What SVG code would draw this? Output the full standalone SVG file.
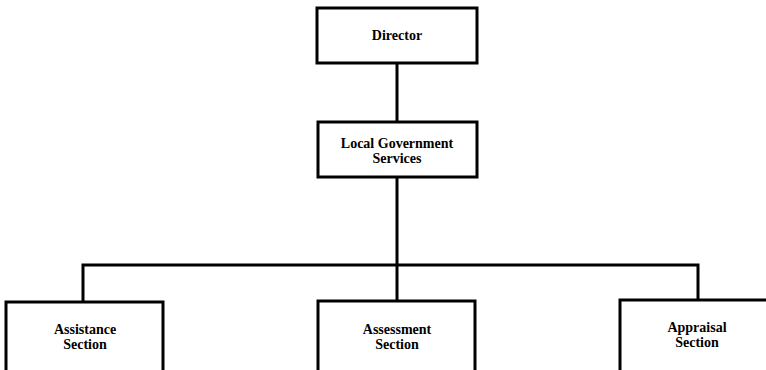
<svg xmlns="http://www.w3.org/2000/svg" width="766" height="370" viewBox="0 0 766 370">
  <style>
    .box { fill: #ffffff; stroke: #000000; stroke-width: 3; }
    .wire { fill: none; stroke: #000000; stroke-width: 3; }
    .label { font-family: "Liberation Serif", "Times New Roman", serif; font-weight: bold; font-size: 14px; text-anchor: middle; fill: #000000; }
  </style>
  <rect width="766" height="370" fill="#ffffff"/>

  <g id="connectors">
    <line class="wire" x1="397" y1="63" x2="397" y2="122"/>
    <line class="wire" x1="397" y1="177" x2="397" y2="301"/>
    <polyline class="wire" points="83,302 83,265 698,265 698,300"/>
  </g>

  <g id="director">
    <rect class="box" x="317" y="8" width="160" height="55"/>
    <text class="label" x="397" y="40">Director</text>
  </g>

  <g id="local-government-services">
    <rect class="box" x="318" y="122" width="159" height="55"/>
    <text class="label" x="397" y="148">Local Government</text>
    <text class="label" x="397" y="163">Services</text>
  </g>

  <g id="assistance-section">
    <rect class="box" x="6" y="302" width="157" height="80"/>
    <text class="label" x="85" y="334">Assistance</text>
    <text class="label" x="85" y="349">Section</text>
  </g>

  <g id="assessment-section">
    <rect class="box" x="318" y="301" width="157" height="80"/>
    <text class="label" x="397" y="334">Assessment</text>
    <text class="label" x="397" y="349">Section</text>
  </g>

  <g id="appraisal-section">
    <rect class="box" x="620" y="300" width="160" height="80"/>
    <text class="label" x="697" y="332">Appraisal</text>
    <text class="label" x="697" y="347">Section</text>
  </g>
</svg>
